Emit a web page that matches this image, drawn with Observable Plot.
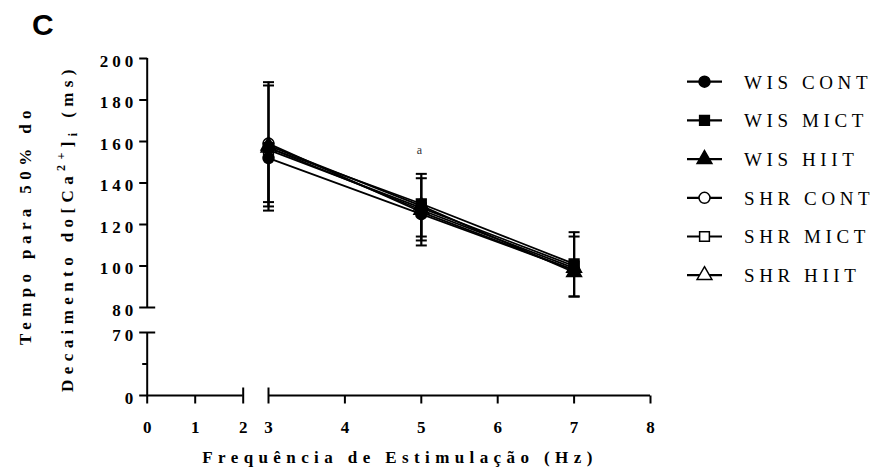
<!DOCTYPE html>
<html><head><meta charset="utf-8">
<script src="https://cdn.jsdelivr.net/npm/d3@7"></script>
<script src="https://cdn.jsdelivr.net/npm/@observablehq/plot@0.6"></script>
<style>
body{margin:0;background:#fff}
#chart{position:relative;width:878px;height:476px}
#chart svg text, #chart svg tspan {font-family: "Liberation Serif", serif;}
#chart svg text.sans {font-family: "Liberation Sans", Arial, sans-serif;}
</style>
</head><body><div id="chart"></div>
<script>
// ---- data ----
const freqs = [3, 5, 7];
const seriesNames = ["WIS CONT", "WIS MICT", "WIS HIIT", "SHR CONT", "SHR MICT", "SHR HIIT"];
const seriesSymbols = ["circle", "square", "triangle", "circle", "square", "triangle"];
const seriesFilled = [true, true, true, false, false, false];

const meanWisCont = [152, 125, 98];
const meanWisMict = [157, 130, 101];
const meanWisHiit = [158, 129, 97];
const meanShrCont = [159, 126, 98];
const meanShrMict = [156, 128, 100];
const meanShrHiit = [157, 127, 99];

const errUpWisCont = [0, 19.4, 18.3];
const errUpWisMict = [30.0, 12.3, 13.2];
const errUpWisHiit = [0, 0, 0];
const errUpShrCont = [29.6, 0, 0];
const errUpShrMict = [0, 0, 0];
const errUpShrHiit = [0, 0, 0];

const errDownWisCont = [21.2, 10.8, 12.7];
const errDownWisMict = [30.3, 17.7, 15.7];
const errDownWisHiit = [0, 0, 0];
const errDownShrCont = [0, 0, 0];
const errDownShrMict = [27.3, 18.1, 0];
const errDownShrHiit = [0, 0, 0];

const yTicksUpper = [80, 100, 120, 140, 160, 180, 200];
const yTicksLower = [0, 70];
const yMinorLower = [35];
const yBreaks = [70, 80];
const xTicksLower = [0, 1, 2];
const xTicksUpper = [3, 4, 5, 6, 7, 8];
const xBreaks = [2, 3];
const ySegments = [[0, 70], [80, 200]];
const xSegments = [[0, 2], [3, 8]];

const annotX = [5];
const annotY = [156];
const annotText = ["a"];

// ---- build table ----
const means = [meanWisCont, meanWisMict, meanWisHiit, meanShrCont, meanShrMict, meanShrHiit];
const ups = [errUpWisCont, errUpWisMict, errUpWisHiit, errUpShrCont, errUpShrMict, errUpShrHiit];
const downs = [errDownWisCont, errDownWisMict, errDownWisHiit, errDownShrCont, errDownShrMict, errDownShrHiit];
const table = [];
seriesNames.forEach((s, i) => freqs.forEach((f, j) => table.push({
  series: s, x: f, y: means[i][j], up: ups[i][j], down: downs[i][j], filled: seriesFilled[i], order: i
})));
const dotTable = table.slice().sort((a, b) => (a.filled - b.filled) || (b.order - a.order));
const upBars = table.filter(d => d.up > 0);
const downBars = table.filter(d => d.down > 0);

// custom tick symbols
const seg = (x1, y1, x2, y2) => ({draw(ctx) { ctx.moveTo(x1, y1); ctx.lineTo(x2, y2); }});
const tickLeft = seg(-8, 0, 0, 0);
const tickLeftMinor = seg(-5, 0, 0, 0);
const tickHBoth = seg(-8, 0, 8, 0);
const tickDown = seg(0, 0, 0, 8);
const tickVBoth = seg(0, -8, 0, 8);
const cap = seg(-5.5, 0, 5.5, 0);

const SERIF = "Liberation Serif";
const AX = 2;

const plot = Plot.plot({
  width: 878, height: 476,
  marginLeft: 147, marginRight: 228, marginTop: 58, marginBottom: 81,
  x: {type: "linear", domain: [0, 2, 3, 8], range: [146.7, 242.7, 268, 650], axis: null},
  y: {type: "linear", domain: [0, 70, 80, 200], range: [395, 332, 307, 58], axis: null},
  symbol: {domain: seriesNames, range: seriesSymbols},
  color: {type: "identity"},
  style: {background: "white", overflow: "visible"},
  marks: [
    // axes
    Plot.ruleX(ySegments, {x: 0, y1: d => d[0], y2: d => d[1], stroke: "black", strokeWidth: AX}),
    Plot.ruleY(xSegments, {y: 0, x1: d => d[0], x2: d => d[1], stroke: "black", strokeWidth: AX}),
    Plot.dot(yTicksUpper.concat(yTicksLower).filter(v => !yBreaks.includes(v)), {x: 0, y: d => d, symbol: tickLeft, stroke: "black", strokeWidth: AX, fill: "none"}),
    Plot.dot(yBreaks, {x: 0, y: d => d, symbol: tickHBoth, stroke: "black", strokeWidth: AX, fill: "none"}),
    Plot.dot(yMinorLower, {x: 0, y: d => d, symbol: tickLeftMinor, stroke: "black", strokeWidth: AX, fill: "none"}),
    Plot.dot(xTicksLower.concat(xTicksUpper).filter(v => !xBreaks.includes(v)), {x: d => d, y: 0, symbol: tickDown, stroke: "black", strokeWidth: AX, fill: "none"}),
    Plot.dot(xBreaks, {x: d => d, y: 0, symbol: tickVBoth, stroke: "black", strokeWidth: AX, fill: "none"}),
    Plot.text(yTicksLower.concat(yTicksUpper), {x: 0, y: d => d, text: d => String(d), textAnchor: "end", dx: -10, dy: 3, fontWeight: "bold", fontSize: 17, fontFamily: SERIF, fill: "black"}),
    Plot.text(xTicksLower.concat(xTicksUpper), {x: d => d, y: 0, text: d => String(d), dy: 32, dx: 2, fontWeight: "bold", fontSize: 17, fontFamily: SERIF, fill: "black"}),
    // data
    Plot.line(table, {x: "x", y: "y", z: "series", stroke: "black", strokeWidth: 1.8}),
    Plot.ruleX(upBars, {x: "x", y1: "y", y2: d => d.y + d.up, stroke: "black", strokeWidth: 2.2}),
    Plot.ruleX(downBars, {x: "x", y1: "y", y2: d => d.y - d.down, stroke: "black", strokeWidth: 2.2}),
    Plot.dot(upBars, {x: "x", y: d => d.y + d.up, symbol: cap, stroke: "black", strokeWidth: 2, fill: "none"}),
    Plot.dot(downBars, {x: "x", y: d => d.y - d.down, symbol: cap, stroke: "black", strokeWidth: 2, fill: "none"}),
    Plot.dot(dotTable, {x: "x", y: "y", symbol: "series", r: 5.5, fill: d => d.filled ? "black" : "white", stroke: "black", strokeWidth: 1.5}),
    Plot.text(annotX.map((x, i) => ({x, y: annotY[i], t: annotText[i]})), {x: "x", y: "y", text: "t", fontSize: 12, fontFamily: SERIF, fill: "#333"})
  ]
});
document.getElementById("chart").appendChild(plot);

// ---- titles and legend (text) ----
const svg = d3.select(plot);
svg.selectAll("text").style("letter-spacing", "4px");

svg.append("text").attr("class", "sans").attr("x", 32).attr("y", 35).attr("text-anchor", "start")
  .attr("font-weight", "bold").attr("font-size", 30).attr("fill", "black").text("C");

svg.append("text").attr("x", 400).attr("y", 463).attr("text-anchor", "middle")
  .attr("font-weight", "bold").attr("font-size", 17)
  .style("letter-spacing", "5.4px").attr("fill", "black").text("Frequência de Estimulação (Hz)");

svg.append("text").attr("transform", "translate(31,225) rotate(-90)").attr("text-anchor", "middle")
  .attr("font-weight", "bold").attr("font-size", 17)
  .style("letter-spacing", "5.4px").attr("fill", "black").text("Tempo para 50% do");

const t2 = svg.append("text").attr("transform", "translate(73,228) rotate(-90)").attr("text-anchor", "middle")
  .attr("font-weight", "bold").attr("font-size", 17)
  .style("letter-spacing", "5.4px").attr("fill", "black");
t2.append("tspan").text("Decaimento do[Ca");
t2.append("tspan").attr("font-size", 12).attr("dy", -8).text("2+");
t2.append("tspan").attr("dy", 8).text("]");
t2.append("tspan").attr("font-size", 12).attr("dy", 4).text("i");
t2.append("tspan").attr("dy", -4).text(" (ms)");

// legend
const symMap = {circle: d3.symbolCircle, square: d3.symbolSquare, triangle: d3.symbolTriangle};
const lg = svg.append("g");
seriesNames.forEach((name, i) => {
  const yy = 81.7 + i * 38.7;
  lg.append("line").attr("x1", 687).attr("x2", 722).attr("y1", yy).attr("y2", yy)
    .attr("stroke", "black").attr("stroke-width", 2.2);
  lg.append("path").attr("transform", `translate(704.5,${yy})`)
    .attr("d", d3.symbol(symMap[seriesSymbols[i]], 5.5 * 5.5 * Math.PI)())
    .attr("fill", seriesFilled[i] ? "black" : "white").attr("stroke", "black").attr("stroke-width", 1.5);
  lg.append("text").attr("x", 744).attr("y", yy + 6.8).attr("text-anchor", "start")
    .attr("font-size", 19).style("letter-spacing", "4.6px")
    .attr("fill", "black").text(name);
});
</script>
</body></html>
